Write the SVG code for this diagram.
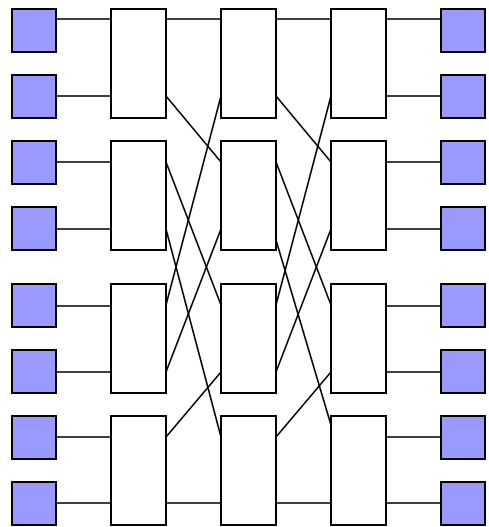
<svg xmlns="http://www.w3.org/2000/svg" width="489" height="527" viewBox="0 0 489 527">
<style>
.t{fill:#9999ff;stroke:#000;stroke-width:2}
.s{fill:#fff;stroke:#000;stroke-width:2}
.c line{stroke:#000;stroke-width:1.6}
</style>
<rect width="489" height="527" fill="#fff"/>
<g class="c" id="connectors">
<line x1="56" y1="19" x2="111" y2="19"/>
<line x1="56" y1="96" x2="111" y2="96"/>
<line x1="56" y1="162" x2="111" y2="162"/>
<line x1="56" y1="229" x2="111" y2="229"/>
<line x1="56" y1="306" x2="111" y2="306"/>
<line x1="56" y1="372" x2="111" y2="372"/>
<line x1="56" y1="437" x2="111" y2="437"/>
<line x1="56" y1="503" x2="111" y2="503"/>
<line x1="386" y1="19" x2="441" y2="19"/>
<line x1="386" y1="96" x2="441" y2="96"/>
<line x1="386" y1="162" x2="441" y2="162"/>
<line x1="386" y1="229" x2="441" y2="229"/>
<line x1="386" y1="306" x2="441" y2="306"/>
<line x1="386" y1="372" x2="441" y2="372"/>
<line x1="386" y1="437" x2="441" y2="437"/>
<line x1="386" y1="503" x2="441" y2="503"/>
<line x1="166" y1="19" x2="221" y2="19"/>
<line x1="166" y1="96" x2="221" y2="162"/>
<line x1="166" y1="162" x2="221" y2="305"/>
<line x1="166" y1="229" x2="221" y2="437"/>
<line x1="166" y1="305" x2="221" y2="96"/>
<line x1="166" y1="372" x2="221" y2="229"/>
<line x1="166" y1="437" x2="221" y2="372"/>
<line x1="166" y1="503" x2="221" y2="503"/>
<line x1="276" y1="19" x2="331" y2="19"/>
<line x1="276" y1="96" x2="331" y2="162"/>
<line x1="276" y1="162" x2="331" y2="305"/>
<line x1="276" y1="240" x2="331" y2="425"/>
<line x1="276" y1="305" x2="331" y2="96"/>
<line x1="276" y1="372" x2="331" y2="229"/>
<line x1="276" y1="437" x2="331" y2="372"/>
<line x1="276" y1="503" x2="331" y2="503"/>
</g>
<g id="in1"><rect class="t" x="12" y="9" width="44" height="43"/></g>
<g id="in2"><rect class="t" x="12" y="75" width="44" height="43"/></g>
<g id="in3"><rect class="t" x="12" y="141" width="44" height="43"/></g>
<g id="in4"><rect class="t" x="12" y="207" width="44" height="43"/></g>
<g id="in5"><rect class="t" x="12" y="284" width="44" height="43"/></g>
<g id="in6"><rect class="t" x="12" y="350" width="44" height="43"/></g>
<g id="in7"><rect class="t" x="12" y="416" width="44" height="43"/></g>
<g id="in8"><rect class="t" x="12" y="482" width="44" height="43"/></g>
<g id="out1"><rect class="t" x="441" y="9" width="44" height="43"/></g>
<g id="out2"><rect class="t" x="441" y="75" width="44" height="43"/></g>
<g id="out3"><rect class="t" x="441" y="141" width="44" height="43"/></g>
<g id="out4"><rect class="t" x="441" y="207" width="44" height="43"/></g>
<g id="out5"><rect class="t" x="441" y="284" width="44" height="43"/></g>
<g id="out6"><rect class="t" x="441" y="350" width="44" height="43"/></g>
<g id="out7"><rect class="t" x="441" y="416" width="44" height="43"/></g>
<g id="out8"><rect class="t" x="441" y="482" width="44" height="43"/></g>
<g id="s11"><rect class="s" x="111" y="9" width="55" height="109"/></g>
<g id="s12"><rect class="s" x="111" y="141" width="55" height="109"/></g>
<g id="s13"><rect class="s" x="111" y="284" width="55" height="109"/></g>
<g id="s14"><rect class="s" x="111" y="416" width="55" height="109"/></g>
<g id="s21"><rect class="s" x="221" y="9" width="55" height="109"/></g>
<g id="s22"><rect class="s" x="221" y="141" width="55" height="109"/></g>
<g id="s23"><rect class="s" x="221" y="284" width="55" height="109"/></g>
<g id="s24"><rect class="s" x="221" y="416" width="55" height="109"/></g>
<g id="s31"><rect class="s" x="331" y="9" width="55" height="109"/></g>
<g id="s32"><rect class="s" x="331" y="141" width="55" height="109"/></g>
<g id="s33"><rect class="s" x="331" y="284" width="55" height="109"/></g>
<g id="s34"><rect class="s" x="331" y="416" width="55" height="109"/></g>
</svg>
